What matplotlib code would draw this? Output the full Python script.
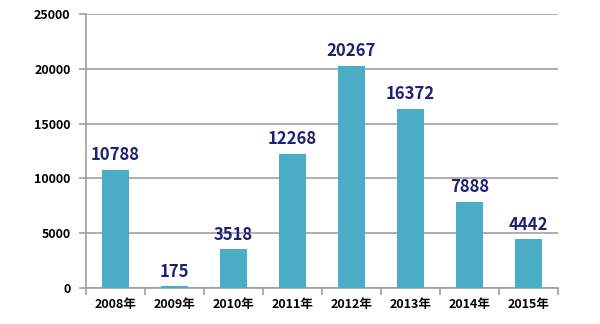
import numpy as np
import matplotlib
matplotlib.use("Agg")
from matplotlib import pyplot as plt

plt.rcParams['font.family'] = ['Noto Sans CJK SC', 'DejaVu Sans']

years  = ['2008年', '2009年', '2010年', '2011年', '2012年', '2013年', '2014年', '2015年']
values = [10788, 175, 3518, 12268, 20267, 16372, 7888, 4442]
yticks = [0, 5000, 10000, 15000, 20000, 25000]

fig = plt.figure(figsize=(6, 3.24), dpi=100)
ax = fig.add_axes([0.143, 0.111, 0.787, 0.846])

x = np.arange(len(years))
bars = ax.bar(x, values, width=0.45, color='#4bacc6', zorder=3)

for xi, v in zip(x, values):
    ax.annotate(str(v), (xi, v), xytext=(0, 4), textcoords='offset points',
                ha='center', va='bottom', fontsize=12, fontweight='bold', color='#1f2070')

ax.set_xlim(-0.5, len(years) - 0.5)
ax.set_ylim(0, 25000)
ax.set_yticks(yticks)
ax.set_yticklabels([str(t) for t in yticks], fontsize=9, fontweight='bold')
ax.yaxis.grid(True, color='#a0a0a0', linewidth=1.2, zorder=0)

# category ticks sit at boundaries
ax.set_xticks(x)
ax.set_xticklabels(years, fontsize=9, fontweight='bold')
ax.set_xticks(np.arange(len(years) + 1) - 0.5, minor=True)
ax.tick_params(axis='x', which='major', length=0, pad=7)
ax.tick_params(axis='x', which='minor', length=5, color='#a0a0a0', width=1.2)
ax.tick_params(axis='y', length=5, color='#a0a0a0', width=1.2, pad=6)

for side in ['top', 'right']:
    ax.spines[side].set_visible(False)
for side in ['left', 'bottom']:
    ax.spines[side].set_color('#a0a0a0')
    ax.spines[side].set_linewidth(1.2)

fig.savefig('out.png', dpi=100)
